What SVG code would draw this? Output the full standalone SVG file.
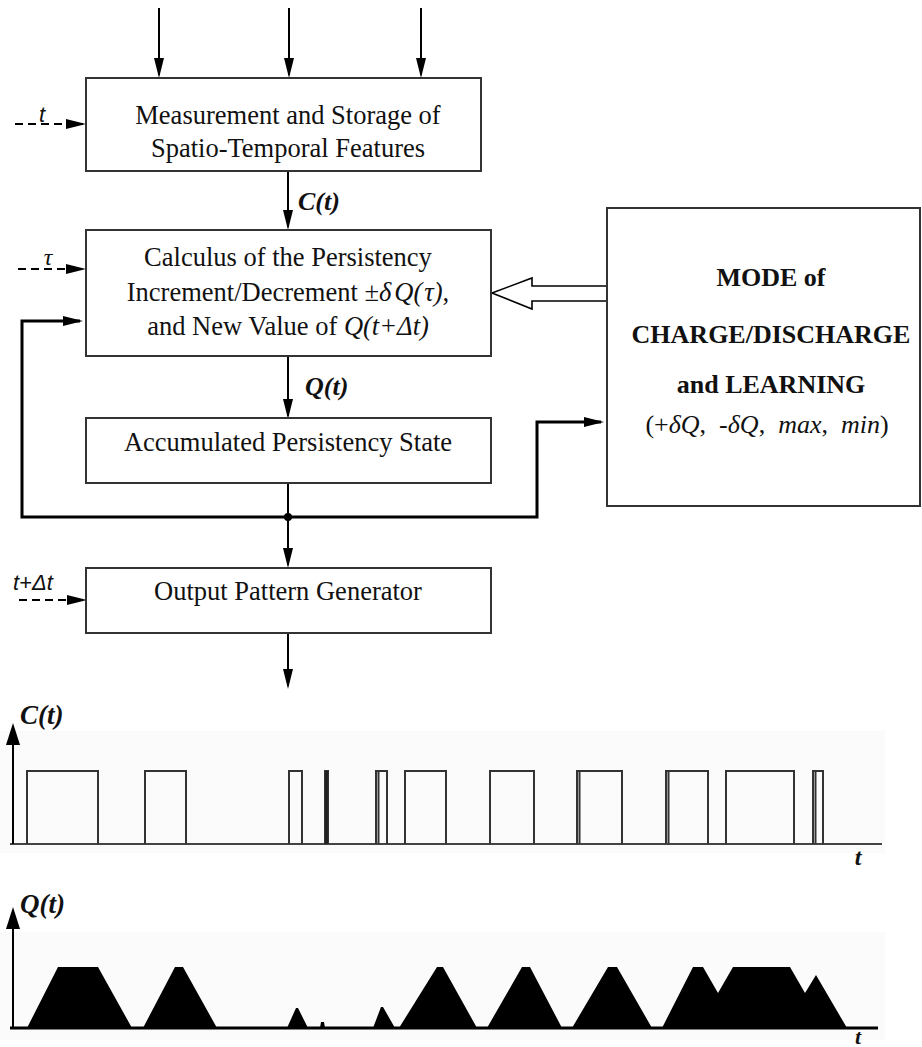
<svg xmlns="http://www.w3.org/2000/svg" width="922" height="1047" viewBox="0 0 922 1047">
<style>
.box{fill:#fff;stroke:#333;stroke-width:2}
.t{font-family:"Liberation Serif","Times New Roman",serif;font-size:26.5px;fill:#111}
.tb{font-family:"Liberation Serif","Times New Roman",serif;font-size:26px;font-weight:bold;fill:#111}
.lbl{font-family:"Liberation Serif","Times New Roman",serif;font-weight:bold;font-style:italic;fill:#111}
.sans{font-family:"Liberation Sans",Arial,sans-serif;font-style:italic;font-size:22px;fill:#111}
.ar{fill:none;stroke:#000;stroke-width:2}
.dash{fill:none;stroke:#000;stroke-width:2.2;stroke-dasharray:8 5}
.loop{fill:none;stroke:#000;stroke-width:3}
.pulse{fill:none;stroke:#333;stroke-width:2}
.hump{fill:#000;stroke:none}
</style>
<defs>
<marker id="ah" markerUnits="userSpaceOnUse" markerWidth="20" markerHeight="10" refX="17" refY="5" orient="auto"><path d="M0,0 L20,5 L0,10 z" fill="#000"/></marker>
<marker id="ax" markerUnits="userSpaceOnUse" markerWidth="22" markerHeight="14" refX="19" refY="7" orient="auto"><path d="M0,0 L22,7 L0,14 z" fill="#000"/></marker>
</defs>
<rect width="922" height="1047" fill="#fff"/>

<g id="connectors">
<line class="ar" x1="159" y1="8" x2="159" y2="75" marker-end="url(#ah)"/>
<line class="ar" x1="289" y1="8" x2="289" y2="75" marker-end="url(#ah)"/>
<line class="ar" x1="421" y1="8" x2="421" y2="75" marker-end="url(#ah)"/>
<line class="dash" x1="15" y1="124" x2="83" y2="124" marker-end="url(#ah)"/>
<text class="sans" x="42" y="122" text-anchor="middle">t</text>
<line class="ar" x1="288" y1="171" x2="288" y2="227" marker-end="url(#ah)"/>
<text class="lbl" x="298" y="210" font-size="26">C(t)</text>
<line class="dash" x1="18" y1="269" x2="83" y2="269" marker-end="url(#ah)"/>
<text x="48" y="265" text-anchor="middle" style="font-family:'Liberation Serif',serif;font-style:italic;font-size:24px;fill:#111">τ</text>
<path class="loop" d="M288,517 H22 V321 H80" marker-end="url(#ah)"/>
<line class="ar" x1="288" y1="356" x2="288" y2="416" marker-end="url(#ah)"/>
<text class="lbl" x="305" y="395" font-size="26">Q(t)</text>
<line class="ar" x1="288" y1="483" x2="288" y2="565" marker-end="url(#ah)"/>
<path class="loop" d="M288,517 H537 V422 H601" marker-end="url(#ah)"/>
<circle cx="288" cy="517" r="4" fill="#000"/>
<polygon points="492,293 532,278 532,286 607,286 607,301 532,301 532,309" fill="#fff" stroke="#000" stroke-width="1.6" stroke-linejoin="miter"/>
<line class="dash" x1="19" y1="600" x2="84" y2="600" marker-end="url(#ah)"/>
<text class="sans" x="13" y="590">t+Δt</text>
<line class="ar" x1="288" y1="633" x2="288" y2="686" marker-end="url(#ah)"/>
</g>

<g id="n1">
<rect class="box" x="86" y="78" width="395" height="93"/>
<text class="t" x="288" y="124" text-anchor="middle">Measurement and Storage of</text>
<text class="t" x="288" y="157" text-anchor="middle">Spatio-Temporal Features</text>
</g>
<g id="n2">
<rect class="box" x="86" y="230" width="405" height="126"/>
<text class="t" x="288" y="266" text-anchor="middle">Calculus of the Persistency</text>
<text class="t" x="288" y="301" text-anchor="middle">Increment/Decrement ±<tspan font-style="italic">δ</tspan><tspan font-style="italic" dx="3">Q(</tspan><tspan font-style="italic" dx="2">τ)</tspan>,</text>
<text class="t" x="288" y="335" text-anchor="middle">and New Value of <tspan font-style="italic">Q(t+Δt)</tspan></text>
</g>
<g id="n3">
<rect class="box" x="86" y="418" width="405" height="65"/>
<text class="t" x="288" y="451" text-anchor="middle">Accumulated Persistency State</text>
</g>
<g id="n4">
<rect class="box" x="86" y="568" width="405" height="65"/>
<text class="t" x="288" y="600" text-anchor="middle">Output Pattern Generator</text>
</g>
<g id="n5">
<rect class="box" x="607" y="208" width="313" height="298"/>
<text class="tb" x="771" y="286" text-anchor="middle">MODE of</text>
<text class="tb" x="771" y="343" text-anchor="middle">CHARGE/DISCHARGE</text>
<text class="tb" x="771" y="393" text-anchor="middle">and LEARNING</text>
<text x="767" y="433" text-anchor="middle" style="font-family:'Liberation Serif',serif;font-size:26px;fill:#111;white-space:pre">(+<tspan font-style="italic">δQ</tspan>,  -<tspan font-style="italic">δQ</tspan>,  <tspan font-style="italic">max</tspan>,  <tspan font-style="italic">min</tspan>)</text>
</g>

<g id="chartC">
<rect x="0" y="731" width="885" height="122" fill="#fbfbfb"/>
<line x1="10" y1="844" x2="882" y2="844" stroke="#444" stroke-width="2"/>
<line x1="13" y1="844" x2="13" y2="726" stroke="#000" stroke-width="2" marker-end="url(#ax)"/>
<text class="lbl" x="20" y="724" font-size="27">C(t)</text>
<path class="pulse" d="M27,844V771H98V844 M145,844V771H186V844 M289,844V771H302V844 M325,844V771H328V844 M376,844V771H387V844 M378.5,844V771 M405,844V771H446V844 M490,844V771H534V844 M577,844V771H622V844 M579.5,844V771 M666,844V771H708V844 M668.5,844V771 M726,844V771H794V844 M813,844V771H823V844 M815.5,844V771"/>
<rect x="325" y="771" width="3" height="73" fill="#222"/>
<text class="lbl" x="858" y="865" font-size="24" text-anchor="middle">t</text>
</g>

<g id="chartQ">
<rect x="0" y="932" width="885" height="108" fill="#fbfbfb"/>
<line x1="13" y1="1028" x2="13" y2="910" stroke="#000" stroke-width="2" marker-end="url(#ax)"/>
<text class="lbl" x="20" y="913" font-size="27">Q(t)</text>
<path class="hump" d="M27,1028 L58,967 L98,967 L132,1028 Z M143,1028 L175,967 L183,967 L217,1028 Z M287,1028 L296,1008 L298,1008 L308,1028 Z M320,1028 L321,1022 L324,1022 L325,1028 Z M373,1028 L381,1007 L383,1007 L395,1028 Z M399,1028 L437,967 L443,967 L477,1028 Z M487,1028 L522,967 L530,967 L562,1028 Z M572,1028 L608,967 L617,967 L652,1028 Z M662,1028 L693,967 L703,967 L718,993 L733,967 L790,967 L805,993 L816,975 L847,1028 Z"/>
<line x1="10" y1="1028" x2="878" y2="1028" stroke="#000" stroke-width="3"/>
<text class="lbl" x="858" y="1044" font-size="22" text-anchor="middle">t</text>
</g>
</svg>
